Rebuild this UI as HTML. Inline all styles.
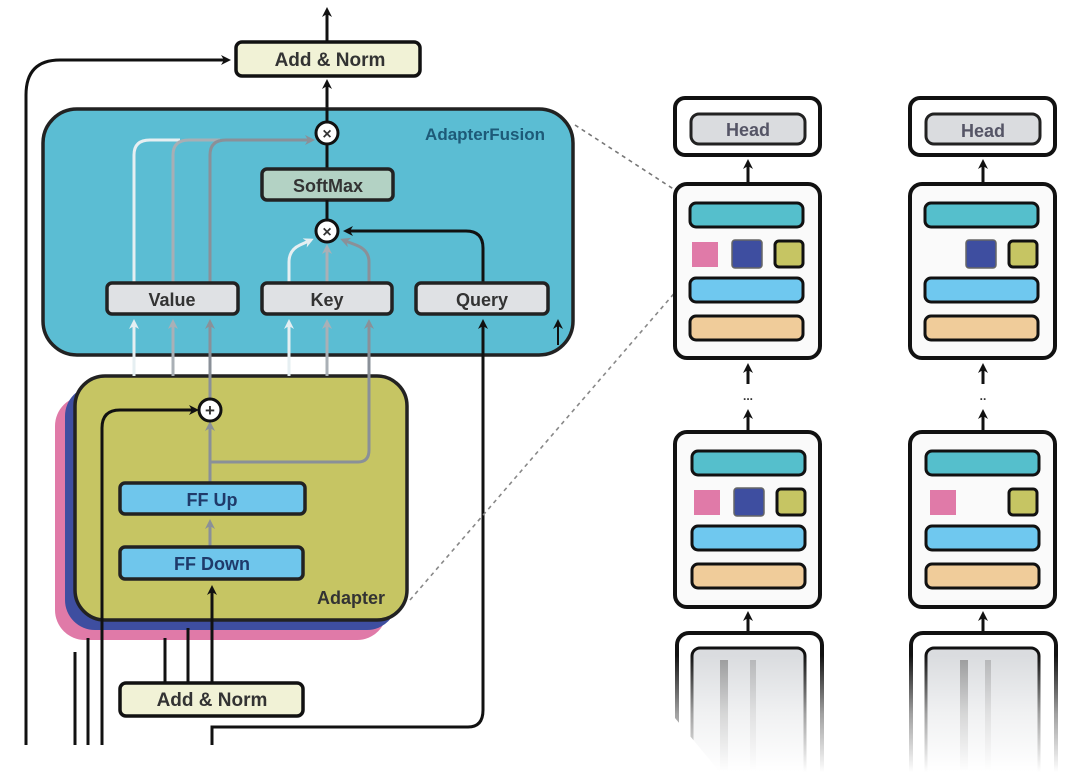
<!DOCTYPE html>
<html><head><meta charset="utf-8"><style>
html,body{margin:0;padding:0;background:#fff}
svg{display:block}
text{font-family:"Liberation Sans",sans-serif;font-weight:bold}
</style></head><body>
<svg width="1080" height="772" viewBox="0 0 1080 772" xmlns="http://www.w3.org/2000/svg">
<defs>
<marker id="ab" markerWidth="10" markerHeight="10" refX="7" refY="5" orient="auto" markerUnits="userSpaceOnUse"><path d="M0,0 L10,5 L0,10 L3,5 z" fill="#111"/></marker>
<marker id="ag" markerWidth="10" markerHeight="10" refX="7" refY="5" orient="auto" markerUnits="userSpaceOnUse"><path d="M0,0 L10,5 L0,10 L3,5 z" fill="#8a9098"/></marker>
<marker id="al" markerWidth="10" markerHeight="10" refX="7" refY="5" orient="auto" markerUnits="userSpaceOnUse"><path d="M0,0 L10,5 L0,10 L3,5 z" fill="#e4eef2"/></marker>
<marker id="am" markerWidth="10" markerHeight="10" refX="7" refY="5" orient="auto" markerUnits="userSpaceOnUse"><path d="M0,0 L10,5 L0,10 L3,5 z" fill="#aab0b6"/></marker>
<linearGradient id="fade" x1="0" y1="0" x2="0" y2="1"><stop offset="0" stop-color="#fff" stop-opacity="0"/><stop offset="0.5" stop-color="#fff" stop-opacity="0.6"/><stop offset="1" stop-color="#fff"/></linearGradient>
</defs>

<path d="M26,745 V95 Q26,60 60,60 H228" fill="none" stroke="#111" stroke-width="3" marker-end="url(#ab)"/>
<line x1="327" y1="42" x2="327" y2="10" stroke="#111" stroke-width="3" marker-end="url(#ab)"/>
<rect x="236" y="42" width="184" height="34" rx="6" fill="#f1f2d6" stroke="#111" stroke-width="3.5"/>
<text x="330" y="66" font-size="19" text-anchor="middle" fill="#333">Add &amp; Norm</text>
<line x1="327" y1="108" x2="327" y2="82" stroke="#111" stroke-width="3" marker-end="url(#ab)"/>

<rect x="43" y="109" width="530" height="246" rx="34" fill="#5bbdd3" stroke="#222" stroke-width="3.5"/>
<text x="545" y="140" font-size="17" text-anchor="end" fill="#1d5a78">AdapterFusion</text>
<line x1="327" y1="122" x2="327" y2="108" stroke="#111" stroke-width="3"/>
<line x1="327" y1="144" x2="327" y2="169" stroke="#111" stroke-width="3"/>
<rect x="262" y="169" width="131" height="31" rx="5" fill="#b3d2c4" stroke="#222" stroke-width="3.5"/>
<text x="328" y="192" font-size="18" text-anchor="middle" fill="#333">SoftMax</text>
<line x1="327" y1="200" x2="327" y2="220" stroke="#111" stroke-width="3"/>

<path d="M134,283 V155 Q134,140 150,140 H180" fill="none" stroke="#e6eff2" stroke-width="3"/>
<path d="M173,283 V155 Q173,140 189,140 H220" fill="none" stroke="#a8aeb4" stroke-width="3"/>
<path d="M210,283 V155 Q210,140 226,140 H312" fill="none" stroke="#8a9098" stroke-width="3" marker-end="url(#ag)"/>
<path d="M289,283 V262 Q289,250 300,245 L311,240" fill="none" stroke="#e6eff2" stroke-width="3" marker-end="url(#al)"/>
<line x1="327" y1="283" x2="327" y2="247" stroke="#aab0b6" stroke-width="3" marker-end="url(#am)"/>
<path d="M369,283 V262 Q369,250 356,245 L343,240" fill="none" stroke="#8a9098" stroke-width="3" marker-end="url(#ag)"/>
<path d="M483,283 V248 Q483,231 466,231 H346" fill="none" stroke="#111" stroke-width="3" marker-end="url(#ab)"/>

<circle cx="327" cy="133" r="11" fill="#fff" stroke="#111" stroke-width="3"/>
<text x="327" y="139" font-size="16" text-anchor="middle" fill="#333">×</text>
<circle cx="327" cy="231" r="11" fill="#fff" stroke="#111" stroke-width="3"/>
<text x="327" y="237" font-size="16" text-anchor="middle" fill="#333">×</text>

<rect x="107" y="283" width="131" height="31" rx="5" fill="#dfe1e4" stroke="#222" stroke-width="3.5"/>
<text x="172" y="306" font-size="18" text-anchor="middle" fill="#333">Value</text>
<rect x="262" y="283" width="130" height="31" rx="5" fill="#dfe1e4" stroke="#222" stroke-width="3.5"/>
<text x="327" y="306" font-size="18" text-anchor="middle" fill="#333">Key</text>
<rect x="416" y="283" width="132" height="31" rx="5" fill="#dfe1e4" stroke="#222" stroke-width="3.5"/>
<text x="482" y="306" font-size="18" text-anchor="middle" fill="#333">Query</text>
<line x1="558" y1="345" x2="558" y2="322" stroke="#111" stroke-width="2" marker-end="url(#ab)"/>

<rect x="55" y="396" width="332" height="244" rx="30" fill="#e07aa8"/>
<rect x="65" y="386" width="332" height="244" rx="30" fill="#3e4ea0"/>
<rect x="75" y="376" width="332" height="244" rx="30" fill="#c6c563" stroke="#222" stroke-width="3.5"/>

<line x1="134" y1="376" x2="134" y2="322" stroke="#e6eff2" stroke-width="3" marker-end="url(#al)"/>
<line x1="173" y1="376" x2="173" y2="322" stroke="#aab0b6" stroke-width="3" marker-end="url(#am)"/>
<line x1="210" y1="398" x2="210" y2="322" stroke="#8a9098" stroke-width="3" marker-end="url(#ag)"/>
<line x1="289" y1="376" x2="289" y2="322" stroke="#e6eff2" stroke-width="3" marker-end="url(#al)"/>
<line x1="327" y1="376" x2="327" y2="322" stroke="#aab0b6" stroke-width="3" marker-end="url(#am)"/>
<path d="M210,462 H358 Q369,462 369,450 V322" fill="none" stroke="#8a9098" stroke-width="3" marker-end="url(#ag)"/>
<line x1="210" y1="483" x2="210" y2="424" stroke="#8a9098" stroke-width="3" marker-end="url(#ag)"/>
<line x1="210" y1="547" x2="210" y2="522" stroke="#8a9098" stroke-width="3" marker-end="url(#ag)"/>
<path d="M102,745 V428 Q102,410 120,410 H196" fill="none" stroke="#111" stroke-width="3" marker-end="url(#ab)"/>
<circle cx="210" cy="410" r="11" fill="#fff" stroke="#111" stroke-width="3"/>
<text x="210" y="416" font-size="17" text-anchor="middle" fill="#333">+</text>

<rect x="120" y="483" width="185" height="31" rx="5" fill="#6fc6ec" stroke="#222" stroke-width="3.5"/>
<text x="212" y="506" font-size="18" text-anchor="middle" fill="#1f3a6a">FF Up</text>
<rect x="120" y="547" width="183" height="32" rx="5" fill="#6fc6ec" stroke="#222" stroke-width="3.5"/>
<text x="212" y="570" font-size="18" text-anchor="middle" fill="#1f3a6a">FF Down</text>
<text x="385" y="604" font-size="18" text-anchor="end" fill="#333">Adapter</text>

<line x1="75" y1="652" x2="75" y2="745" stroke="#111" stroke-width="3"/>
<line x1="88" y1="638" x2="88" y2="745" stroke="#111" stroke-width="3"/>
<line x1="165" y1="683" x2="165" y2="638" stroke="#111" stroke-width="3"/>
<line x1="188" y1="683" x2="188" y2="628" stroke="#111" stroke-width="3"/>
<line x1="212" y1="683" x2="212" y2="588" stroke="#111" stroke-width="3" marker-end="url(#ab)"/>
<path d="M212,745 V727 H468 Q483,727 483,710 V322" fill="none" stroke="#111" stroke-width="3" marker-end="url(#ab)"/>
<rect x="120" y="683" width="183" height="33" rx="6" fill="#f1f2d6" stroke="#111" stroke-width="3.5"/>
<text x="212" y="706" font-size="19" text-anchor="middle" fill="#333">Add &amp; Norm</text>

<line x1="575" y1="125" x2="675" y2="190" stroke="#777" stroke-width="1.6" stroke-dasharray="4,4"/>
<line x1="410" y1="600" x2="690" y2="275" stroke="#888" stroke-width="1.6" stroke-dasharray="4,4"/>

<g>
<rect x="675" y="98" width="145" height="57" rx="10" fill="#fff" stroke="#111" stroke-width="4"/>
<rect x="691" y="114" width="114" height="30" rx="8" fill="#dadcdf" stroke="#222" stroke-width="3"/>
<text x="748" y="136" font-size="18" text-anchor="middle" fill="#556">Head</text>
<line x1="748" y1="183" x2="748" y2="162" stroke="#111" stroke-width="3" marker-end="url(#ab)"/>
<rect x="675" y="184" width="145" height="174" rx="12" fill="#fafafa" stroke="#111" stroke-width="4"/>
<rect x="690" y="203" width="113" height="24" rx="6" fill="#55bfcc" stroke="#111" stroke-width="3"/>
<rect x="692" y="242" width="26" height="25" fill="#e07aa8"/>
<rect x="732" y="240" width="30" height="28" rx="3" fill="#3e4ea0" stroke="#666" stroke-width="1.5"/>
<rect x="775" y="241" width="28" height="26" rx="4" fill="#c6c563" stroke="#111" stroke-width="3"/>
<rect x="690" y="278" width="113" height="24" rx="6" fill="#6fc8ef" stroke="#111" stroke-width="3"/>
<rect x="690" y="316" width="113" height="24" rx="6" fill="#f0cc9a" stroke="#111" stroke-width="3"/>
<line x1="748" y1="384" x2="748" y2="366" stroke="#111" stroke-width="3" marker-end="url(#ab)"/>
<text x="748" y="400" font-size="12" text-anchor="middle" fill="#333">...</text>
<line x1="748" y1="432" x2="748" y2="412" stroke="#111" stroke-width="3" marker-end="url(#ab)"/>
<rect x="675" y="432" width="145" height="175" rx="12" fill="#fafafa" stroke="#111" stroke-width="4"/>
<rect x="692" y="451" width="113" height="24" rx="6" fill="#55bfcc" stroke="#111" stroke-width="3"/>
<rect x="694" y="490" width="26" height="25" fill="#e07aa8"/>
<rect x="734" y="488" width="30" height="28" rx="3" fill="#3e4ea0" stroke="#666" stroke-width="1.5"/>
<rect x="777" y="489" width="28" height="26" rx="4" fill="#c6c563" stroke="#111" stroke-width="3"/>
<rect x="692" y="526" width="113" height="24" rx="6" fill="#6fc8ef" stroke="#111" stroke-width="3"/>
<rect x="692" y="564" width="113" height="24" rx="6" fill="#f0cc9a" stroke="#111" stroke-width="3"/>
<line x1="748" y1="632" x2="748" y2="614" stroke="#111" stroke-width="3" marker-end="url(#ab)"/>
<rect x="677" y="633" width="145" height="160" rx="12" fill="#fff" stroke="#111" stroke-width="4"/>
<rect x="692" y="648" width="113" height="140" rx="8" fill="#dadcdf" stroke="#111" stroke-width="3"/>
<rect x="720" y="660" width="8" height="110" fill="#555" opacity="0.5"/>
<rect x="750" y="660" width="6" height="110" fill="#777" opacity="0.4"/>
</g>
<g>
<rect x="910" y="98" width="145" height="57" rx="10" fill="#fff" stroke="#111" stroke-width="4"/>
<rect x="926" y="114" width="114" height="30" rx="8" fill="#dadcdf" stroke="#222" stroke-width="3"/>
<text x="983" y="137" font-size="18" text-anchor="middle" fill="#556">Head</text>
<line x1="983" y1="183" x2="983" y2="162" stroke="#111" stroke-width="3" marker-end="url(#ab)"/>
<rect x="910" y="184" width="145" height="174" rx="12" fill="#fafafa" stroke="#111" stroke-width="4"/>
<rect x="925" y="203" width="113" height="24" rx="6" fill="#55bfcc" stroke="#111" stroke-width="3"/>
<rect x="966" y="240" width="30" height="28" rx="3" fill="#3e4ea0" stroke="#666" stroke-width="1.5"/>
<rect x="1009" y="241" width="28" height="26" rx="4" fill="#c6c563" stroke="#111" stroke-width="3"/>
<rect x="925" y="278" width="113" height="24" rx="6" fill="#6fc8ef" stroke="#111" stroke-width="3"/>
<rect x="925" y="316" width="113" height="24" rx="6" fill="#f0cc9a" stroke="#111" stroke-width="3"/>
<line x1="983" y1="384" x2="983" y2="366" stroke="#111" stroke-width="3" marker-end="url(#ab)"/>
<text x="983" y="400" font-size="12" text-anchor="middle" fill="#333">..</text>
<line x1="983" y1="432" x2="983" y2="412" stroke="#111" stroke-width="3" marker-end="url(#ab)"/>
<rect x="910" y="432" width="145" height="175" rx="12" fill="#fafafa" stroke="#111" stroke-width="4"/>
<rect x="926" y="451" width="113" height="24" rx="6" fill="#55bfcc" stroke="#111" stroke-width="3"/>
<rect x="930" y="490" width="26" height="25" fill="#e07aa8"/>
<rect x="1009" y="489" width="28" height="26" rx="4" fill="#c6c563" stroke="#111" stroke-width="3"/>
<rect x="926" y="526" width="113" height="24" rx="6" fill="#6fc8ef" stroke="#111" stroke-width="3"/>
<rect x="926" y="564" width="113" height="24" rx="6" fill="#f0cc9a" stroke="#111" stroke-width="3"/>
<line x1="983" y1="632" x2="983" y2="614" stroke="#111" stroke-width="3" marker-end="url(#ab)"/>
<rect x="911" y="633" width="145" height="160" rx="12" fill="#fff" stroke="#111" stroke-width="4"/>
<rect x="926" y="648" width="113" height="140" rx="8" fill="#dadcdf" stroke="#111" stroke-width="3"/>
<rect x="960" y="660" width="8" height="110" fill="#555" opacity="0.5"/>
<rect x="985" y="660" width="6" height="110" fill="#777" opacity="0.4"/>
</g>
<rect x="650" y="655" width="430" height="117" fill="url(#fade)"/>
<polygon points="660,700 720,772 660,772" fill="#fff"/>
</svg>
</body></html>
